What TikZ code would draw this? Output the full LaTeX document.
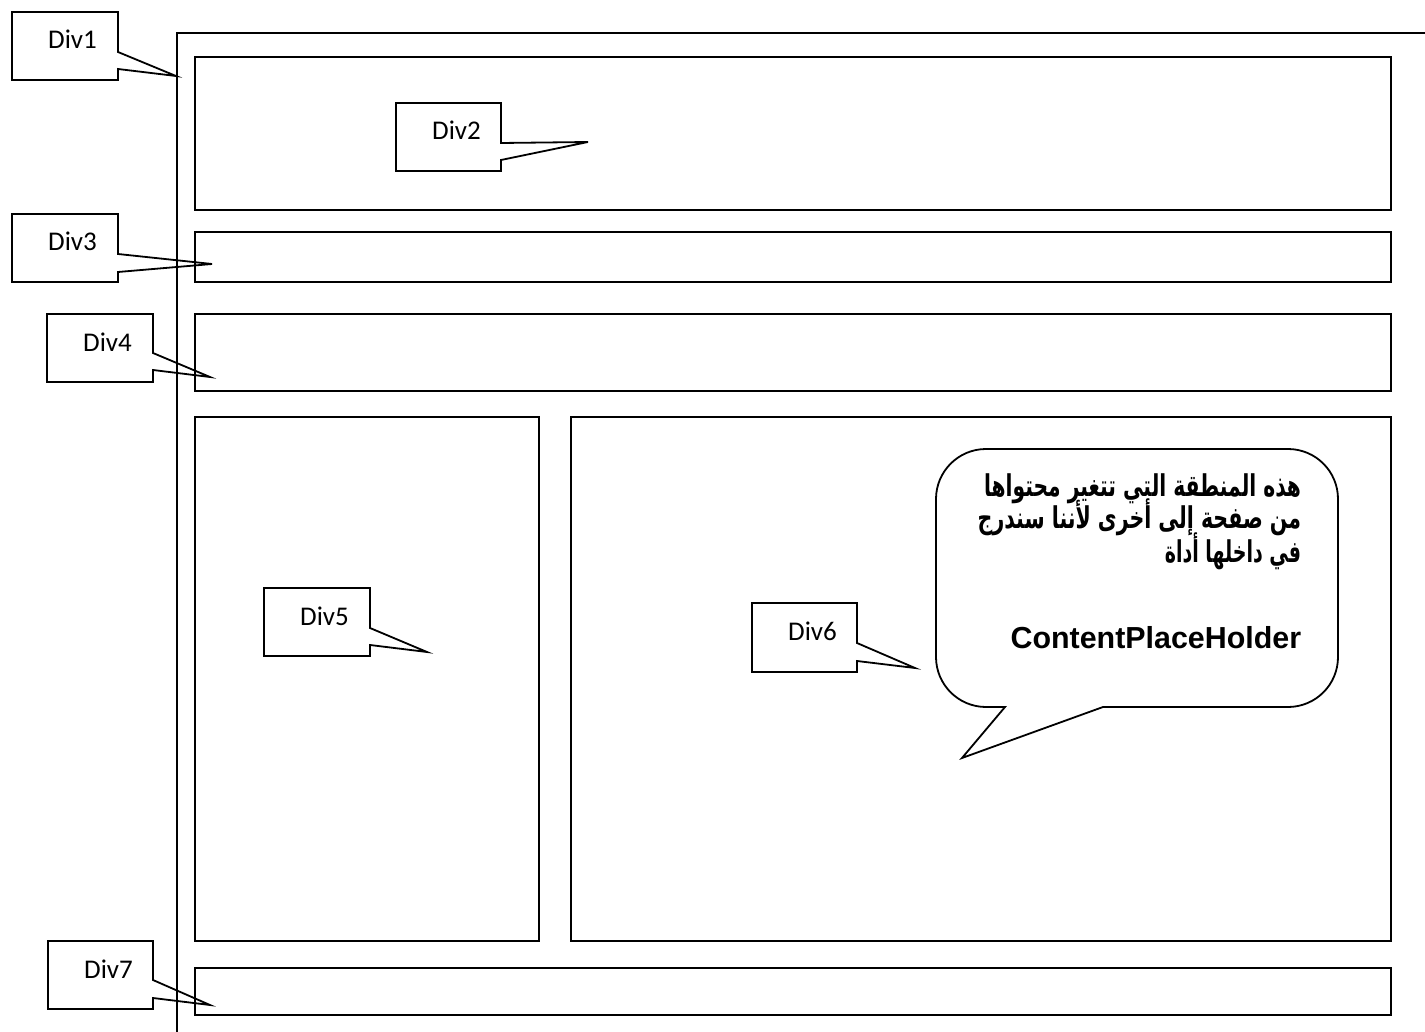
\documentclass[tikz,border=0pt]{standalone}
\usepackage{fontspec}
\setmainfont{Carlito}
\newfontfamily\arabicfont[Script=Arabic]{DejaVu Sans}
\newfontfamily\arialfont{Liberation Sans}
\TeXXeTstate=1
\begin{document}
\begin{tikzpicture}[x=0.5pt,y=-0.5pt, line width=0.9pt, line join=miter]
\tikzset{
  divlabel/.style={anchor=base, inner sep=0pt, font=\fontsize{13.5}{16}\selectfont},
  frame/.style={draw=black},
  arab/.style={anchor=base east, inner sep=0pt, font=\arabicfont\bfseries\fontsize{12.5}{15}\selectfont},
  latinbold/.style={anchor=base east, inner sep=0pt, font=\arialfont\bfseries\fontsize{15.2}{18}\selectfont}
}
\useasboundingbox (0,0) rectangle (1425,1032);
% outer Div1
\draw[frame] (1425,33) -- (177,33) -- (177,1032);
% inner divs
\draw[frame] (195,57) rectangle (1391,210);
\draw[frame] (195,232) rectangle (1391,282);
\draw[frame] (195,314) rectangle (1391,391);
\draw[frame] (195,417) rectangle (539,941);
\draw[frame] (571,417) rectangle (1391,941);
\draw[frame] (195,968) rectangle (1391,1015);
% callouts
\draw[frame] (12,12) -- (118,12) -- (118,52) -- (176,76) -- (118,69) -- (118,80) -- (12,80) -- cycle;
\draw[frame] (396,103) -- (501,103) -- (501,143) -- (588,142) -- (501,160) -- (501,171) -- (396,171) -- cycle;
\draw[frame] (12,214) -- (118,214) -- (118,254) -- (212,264) -- (118,272) -- (118,282) -- (12,282) -- cycle;
\draw[frame] (47,314) -- (153,314) -- (153,353) -- (210,377) -- (153,370) -- (153,382) -- (47,382) -- cycle;
\draw[frame] (264,588) -- (370,588) -- (370,628) -- (427,652) -- (370,645) -- (370,656) -- (264,656) -- cycle;
\draw[frame] (752,603) -- (857,603) -- (857,643) -- (915,668) -- (857,661) -- (857,672) -- (752,672) -- cycle;
\draw[frame] (48,941) -- (153,941) -- (153,980) -- (210,1005) -- (153,998) -- (153,1009) -- (48,1009) -- cycle;
% labels
\node[divlabel] (l1) at (72.5,49) {Div1};
\node[divlabel] (l2) at (456.5,140) {Div2};
\node[divlabel] (l3) at (72.5,251) {Div3};
\node[divlabel] (l4) at (107.5,351) {Div4};
\node[divlabel] (l5) at (324.5,625) {Div5};
\node[divlabel] (l6) at (812.5,640) {Div6};
\node[divlabel] (l7) at (108.5,978) {Div7};
% speech bubble
\draw[frame] (1005,707) [rounded corners=25pt] -- (936,707) -- (936,449) -- (1338,449) -- (1338,707) [sharp corners] -- (1103,707) -- (962,758) -- cycle;
\node[arab] (t1) at (1302,496) {\scalebox{0.81}[1.2]{\beginR هذه المنطقة التي تتغير محتواها\endR}};
\node[arab] (t2) at (1302,528) {\scalebox{0.82}[1.2]{\beginR من صفحة إلى أخرى لأننا سندرج\endR}};
\node[arab] (t3) at (1302,562) {\scalebox{0.76}[1.2]{\beginR في داخلها أداة\endR}};
\node[latinbold] (t4) at (1302,648) {ContentPlaceHolder};
\end{tikzpicture}
\end{document}
